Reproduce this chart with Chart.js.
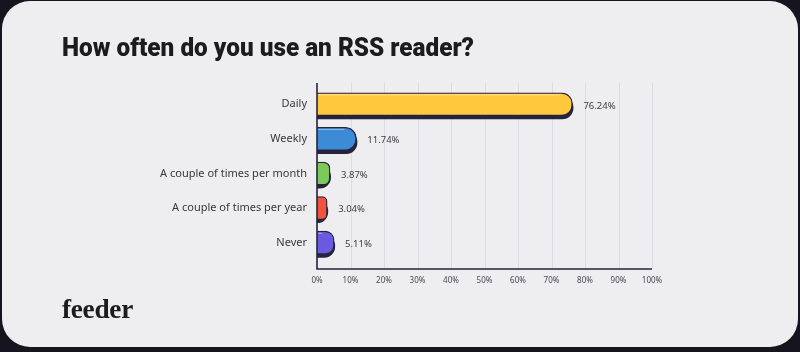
<!DOCTYPE html>
<html>
<head>
<meta charset="utf-8">
<script src="https://cdn.jsdelivr.net/npm/chart.js@4.4.1/dist/chart.umd.min.js"></script>
<style>
  html, body { margin: 0; padding: 0; background: #16151f; }
  #wrap { position: relative; width: 800px; height: 352px; overflow: hidden; background: #16151f; }
  #card { position: absolute; left: 2px; top: 1px; width: 796px; height: 346px; background: #eeeef0; border-radius: 28px; }
  #c { position: absolute; left: 0; top: 0; }
  #title { position: absolute; left: 62px; top: 34px; font-family: Roboto, sans-serif; font-weight: 900; font-size: 26px; line-height: 26px; color: #1c1c1e; white-space: nowrap; transform-origin: 0 0; }
  #logo { position: absolute; left: 62px; top: 296px; font-family: "Liberation Serif", serif; font-weight: 700; font-size: 27px; line-height: 27px; color: #1c1c1e; white-space: nowrap; transform-origin: 0 0; letter-spacing: -0.3px; }
</style>
</head>
<body>
<div id="wrap">
  <div id="card"></div>
  <canvas id="c" width="800" height="352"></canvas>
  <div id="title">How often do you use an RSS reader?</div>
  <div id="logo">feeder</div>
</div>
<script>
const categories = ["Daily", "Weekly", "A couple of times per month", "A couple of times per year", "Never"];
const values = [76.24, 11.74, 3.87, 3.04, 5.11];
const valueLabels = ["76.24%", "11.74%", "3.87%", "3.04%", "5.11%"];
const barColors = ["#ffc83d", "#3d8bd6", "#7cca5a", "#f0543a", "#6a5ae0"];
const xTicks = [0, 10, 20, 30, 40, 50, 60, 70, 80, 90, 100];

function fitWidth(id, w) {
  const el = document.getElementById(id);
  const r = el.getBoundingClientRect().width;
  if (r > 0) el.style.transform = 'scaleX(' + (w / r) + ')';
}
fitWidth('title', 412);
fitWidth('logo', 71);

const DARK = '#25233d';
const RADIUS = 11;

function barRect(bar) {
  const p = bar.getProps(['x', 'y', 'base', 'height'], true);
  const left = Math.min(p.base, p.x), right = Math.max(p.base, p.x);
  return { left, right, top: p.y - p.height / 2, bottom: p.y + p.height / 2, h: p.height };
}

const gridPlugin = {
  id: 'gridPlugin',
  beforeDatasetsDraw(chart) {
    const ctx = chart.ctx, xs = chart.scales.x, a = chart.chartArea;
    const top = a.top - 4, bottom = a.bottom + 9;
    ctx.save();
    ctx.strokeStyle = '#dcdce1';
    ctx.lineWidth = 1;
    xTicks.forEach(t => {
      if (t === 0) return;
      const x = Math.round(xs.getPixelForValue(t)) + 0.5;
      ctx.beginPath(); ctx.moveTo(x, top); ctx.lineTo(x, bottom); ctx.stroke();
    });
    // bar drop shadows
    const meta = chart.getDatasetMeta(0);
    ctx.fillStyle = DARK;
    meta.data.forEach(bar => {
      const r = barRect(bar);
      const w = r.right - r.left + 1;
      const rad = Math.min(RADIUS, w, r.h / 2);
      ctx.beginPath();
      ctx.roundRect(r.left, r.top + 3.5, w, r.h, [0, rad, rad, 0]);
      ctx.fill();
    });
    ctx.restore();
  },
  afterDatasetsDraw(chart) {
    const ctx = chart.ctx, xs = chart.scales.x, a = chart.chartArea;
    const top = a.top - 4, bottom = a.bottom + 9;
    const x0 = xs.getPixelForValue(0), x1 = xs.getPixelForValue(100);
    const meta = chart.getDatasetMeta(0);
    ctx.save();
    // top highlight
    ctx.strokeStyle = 'rgba(255,255,255,0.45)';
    ctx.lineWidth = 1;
    meta.data.forEach(bar => {
      const r = barRect(bar);
      const end = r.right - Math.min(RADIUS, (r.right - r.left)) - 1;
      if (end > r.left + 2) {
        ctx.beginPath(); ctx.moveTo(r.left + 1, r.top + 2); ctx.lineTo(end, r.top + 2); ctx.stroke();
      }
    });
    ctx.strokeStyle = DARK;
    ctx.lineWidth = 1.6;
    ctx.beginPath(); ctx.moveTo(x0, top); ctx.lineTo(x0, bottom); ctx.lineTo(x1, bottom); ctx.stroke();
    // value labels
    ctx.fillStyle = '#3c3c40';
    ctx.font = '9.5px "Noto Sans", sans-serif';
    ctx.textAlign = 'left';
    ctx.textBaseline = 'middle';
    meta.data.forEach((bar, i) => {
      ctx.fillText(valueLabels[i], bar.x + 11, bar.y + 1.5);
    });
    ctx.restore();
  }
};

new Chart(document.getElementById('c'), {
  type: 'bar',
  data: {
    labels: categories,
    datasets: [{
      data: values,
      backgroundColor: barColors,
      borderColor: DARK,
      borderWidth: 1.3,
      borderSkipped: 'start',
      borderRadius: { topRight: RADIUS, bottomRight: RADIUS, topLeft: 0, bottomLeft: 0 },
      barThickness: 23
    }]
  },
  options: {
    indexAxis: 'y',
    responsive: false,
    animation: false,
    devicePixelRatio: 1,
    layout: { padding: { top: 87, left: 0, right: 148, bottom: 0 } },
    plugins: { legend: { display: false }, tooltip: { enabled: false }, title: { display: false } },
    scales: {
      x: {
        type: 'linear', min: 0, max: 100,
        afterFit(s) { s.height = 92; },
        afterBuildTicks(s) { s.ticks = xTicks.map(v => ({ value: v })); },
        grid: { display: false, drawTicks: false },
        border: { display: false },
        ticks: {
          padding: 16,
          color: '#4a4a50',
          font: { family: '"Noto Sans", sans-serif', size: 8 },
          callback: v => v + '%',
          maxRotation: 0
        }
      },
      y: {
        afterFit(s) { s.width = 317; },
        grid: { display: false, drawTicks: false },
        border: { display: false },
        ticks: {
          padding: 10,
          color: '#38383c',
          font: { family: '"Noto Sans", sans-serif', size: 11 }
        }
      }
    }
  },
  plugins: [gridPlugin]
});
</script>
</body>
</html>
